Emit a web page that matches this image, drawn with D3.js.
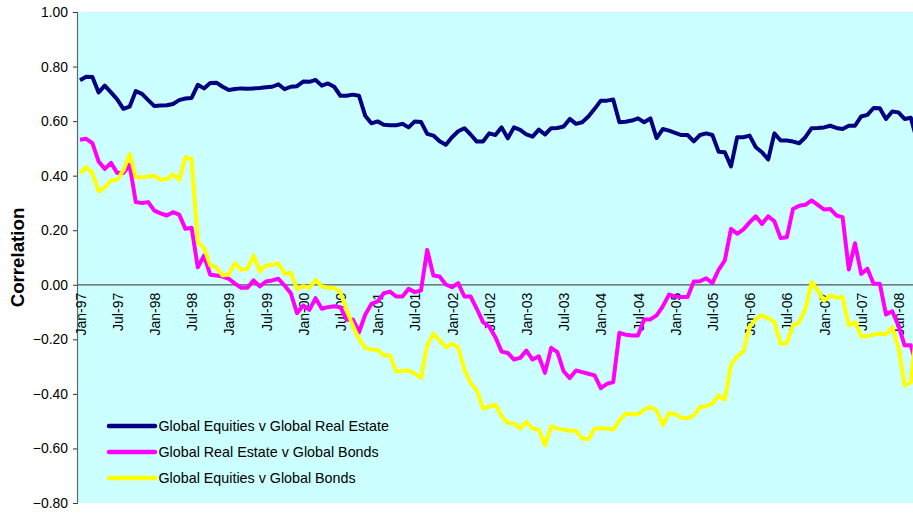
<!DOCTYPE html>
<html>
<head>
<meta charset="utf-8">
<script src="https://cdn.jsdelivr.net/npm/d3@7"></script>
<style>
  body { margin: 0; background: #fff; }
  text { font-family: Arial, "Liberation Sans", sans-serif; }
</style>
</head>
<body>
<div class="content"></div>
<script>
// monthly correlations, Jan-97 onwards (last point runs past the right edge)
const equitiesRealEstate = [
  0.75, 0.763, 0.762, 0.705, 0.73, 0.705, 0.68, 0.645, 0.653, 0.71,
  0.70, 0.677, 0.655, 0.657, 0.658, 0.663, 0.677, 0.683, 0.685, 0.733,
  0.72, 0.74, 0.741, 0.726, 0.714, 0.718, 0.72, 0.719, 0.72, 0.721,
  0.724, 0.726, 0.735, 0.717, 0.726, 0.728, 0.745, 0.744, 0.751, 0.73,
  0.738, 0.726, 0.693, 0.693, 0.697, 0.693, 0.62, 0.592, 0.599, 0.587,
  0.585, 0.585, 0.59, 0.577, 0.599, 0.597, 0.553, 0.547, 0.526, 0.513,
  0.541, 0.563, 0.574, 0.551, 0.525, 0.525, 0.555, 0.549, 0.577, 0.537,
  0.577, 0.568, 0.551, 0.543, 0.569, 0.551, 0.574, 0.575, 0.58, 0.608,
  0.59, 0.596, 0.617, 0.645, 0.675, 0.675, 0.679, 0.596, 0.598, 0.602,
  0.61, 0.596, 0.61, 0.538, 0.571, 0.565, 0.557, 0.549, 0.549, 0.526,
  0.549, 0.555, 0.549, 0.488, 0.486, 0.434, 0.541, 0.541, 0.547, 0.504,
  0.486, 0.459, 0.555, 0.529, 0.529, 0.525, 0.519, 0.541, 0.574, 0.575,
  0.577, 0.583, 0.575, 0.571, 0.583, 0.583, 0.617, 0.623, 0.648, 0.647,
  0.608, 0.635, 0.632, 0.608, 0.612, 0.53
];
const realEstateBonds = [
  0.532, 0.535, 0.519, 0.452, 0.425, 0.447, 0.41, 0.41, 0.44, 0.303,
  0.30, 0.303, 0.272, 0.262, 0.254, 0.266, 0.257, 0.205, 0.209, 0.064,
  0.107, 0.037, 0.034, 0.030, 0.022, 0.004, -0.011, -0.011, 0.016, -0.006,
  0.012, 0.016, 0.022, -0.003, -0.031, -0.104, -0.076, -0.092, -0.049, -0.088,
  -0.082, -0.079, -0.082, -0.128, -0.127, -0.174, -0.11, -0.07, -0.061, -0.031,
  -0.025, -0.043, -0.043, -0.015, -0.027, -0.021, 0.128, 0.034, 0.03, 0.001,
  -0.009, 0.006, -0.043, -0.043, -0.088, -0.137, -0.153, -0.192, -0.245, -0.25,
  -0.274, -0.268, -0.241, -0.274, -0.262, -0.323, -0.231, -0.247, -0.317, -0.342,
  -0.314, -0.32, -0.326, -0.332, -0.379, -0.363, -0.357, -0.176, -0.183, -0.186,
  -0.186, -0.127, -0.127, -0.112, -0.079, -0.036, -0.043, -0.045, -0.045, 0.012,
  0.013, 0.024, 0.006, 0.055, 0.089, 0.205, 0.187, 0.203, 0.229, 0.251,
  0.223, 0.251, 0.233, 0.171, 0.174, 0.278, 0.29, 0.293, 0.309, 0.293,
  0.276, 0.278, 0.254, 0.248, 0.056, 0.152, 0.04, 0.059, 0.004, 0.004,
  -0.109, -0.097, -0.149, -0.222, -0.222, -0.30
];
const equitiesBonds = [
  0.409, 0.431, 0.409, 0.343, 0.357, 0.382, 0.385, 0.419, 0.48, 0.394,
  0.394, 0.397, 0.40, 0.385, 0.388, 0.404, 0.385, 0.467, 0.462, 0.156,
  0.136, 0.071, 0.064, 0.034, 0.038, 0.079, 0.055, 0.059, 0.107, 0.049,
  0.071, 0.073, 0.079, 0.04, 0.044, -0.015, -0.005, -0.011, 0.018, -0.006,
  -0.011, -0.011, -0.027, -0.092, -0.149, -0.198, -0.231, -0.238, -0.238, -0.259,
  -0.259, -0.318, -0.316, -0.314, -0.326, -0.341, -0.222, -0.18, -0.204, -0.229,
  -0.216, -0.229, -0.311, -0.36, -0.387, -0.454, -0.446, -0.44, -0.482, -0.507,
  -0.509, -0.527, -0.503, -0.527, -0.531, -0.589, -0.519, -0.527, -0.531, -0.536,
  -0.534, -0.564, -0.567, -0.527, -0.527, -0.527, -0.531, -0.497, -0.473, -0.475,
  -0.475, -0.458, -0.448, -0.46, -0.515, -0.47, -0.475, -0.487, -0.489, -0.479,
  -0.448, -0.445, -0.436, -0.405, -0.421, -0.293, -0.262, -0.244, -0.155, -0.125,
  -0.112, -0.122, -0.137, -0.216, -0.214, -0.149, -0.137, -0.088, 0.01, -0.021,
  -0.058, -0.039, -0.048, -0.045, -0.149, -0.137, -0.189, -0.189, -0.182, -0.179,
  -0.182, -0.155, -0.229, -0.369, -0.357, -0.15
];
const seriesNames = [
  "Global Equities v Global Real Estate",
  "Global Real Estate v Global Bonds",
  "Global Equities v Global Bonds"
];
const seriesColors = ["#000080", "#FF00FF", "#FFFF00"];
const yTicks = [1.0, 0.8, 0.6, 0.4, 0.2, 0.0, -0.2, -0.4, -0.6, -0.8];
const xTickLabels = [
  "Jan-97", "Jul-97", "Jan-98", "Jul-98", "Jan-99", "Jul-99", "Jan-00", "Jul-00",
  "Jan-01", "Jul-01", "Jan-02", "Jul-02", "Jan-03", "Jul-03", "Jan-04", "Jul-04",
  "Jan-05", "Jul-05", "Jan-06", "Jul-06", "Jan-07", "Jul-07", "Jan-08"
];

function main() {
  const svgW = 913, svgH = 514;
  const plot = { left: 77, top: 12, right: 913, bottom: 503 };
  const svg = d3.select('.content').append('svg')
    .attr('width', svgW)
    .attr('height', svgH);

  // category labels, one per month
  const fmt = d3.timeFormat('%b-%y');
  const months = equitiesRealEstate.map((d, i) => fmt(new Date(1997, i, 1)));

  const x = d3.scalePoint()
    .domain(months)
    .range([80, 80 + 6.2 * (months.length - 1)]);
  const y = d3.scaleLinear()
    .domain([-0.8, 1.0])
    .range([plot.bottom, plot.top]);

  // plot background
  svg.append('rect')
    .attr('x', plot.left).attr('y', plot.top)
    .attr('width', plot.right - plot.left)
    .attr('height', plot.bottom - plot.top)
    .attr('fill', '#CCFFFF');

  // y axis
  const yAxis = svg.append('g')
    .attr('transform', 'translate(' + plot.left + ',0)')
    .call(d3.axisLeft(y).tickValues(yTicks).tickFormat(d3.format('.2f')).tickSize(4).tickPadding(5));
  yAxis.select('.domain').attr('stroke', '#5a6a6a').attr('stroke-width', 1.2);
  yAxis.selectAll('.tick line').attr('stroke', '#333');
  yAxis.selectAll('text').attr('font-size', 13.9).attr('fill', '#000')
    .attr('font-family', 'Arial, "Liberation Sans", sans-serif');

  // zero line with month labels hanging below it
  svg.append('line')
    .attr('x1', plot.left).attr('x2', plot.right)
    .attr('y1', y(0)).attr('y2', y(0))
    .attr('stroke', '#555').attr('stroke-width', 1.2);

  svg.append('g').selectAll('text')
    .data(xTickLabels)
    .join('text')
    .attr('transform', d => 'translate(' + (x(d) + 5.5) + ',' + (y(0) + 8) + ') rotate(-90)')
    .attr('text-anchor', 'end')
    .attr('font-size', 14)
    .text(d => d);

  // y title
  svg.append('text')
    .attr('transform', 'translate(24,' + ((plot.top + plot.bottom) / 2) + ') rotate(-90)')
    .attr('text-anchor', 'middle')
    .attr('font-size', 18.7)
    .attr('font-weight', 'bold')
    .text('Correlation');

  // the three lines, later series drawn on top
  const allSeries = [equitiesRealEstate, realEstateBonds, equitiesBonds];
  const line = d3.line()
    .x((d, i) => x(months[i]))
    .y(d => y(d));
  svg.append('clipPath').attr('id', 'plotclip')
    .append('rect')
    .attr('x', plot.left).attr('y', 0)
    .attr('width', plot.right - plot.left).attr('height', svgH);
  allSeries.forEach((s, k) => {
    svg.append('path')
      .datum(s)
      .attr('d', line)
      .attr('fill', 'none')
      .attr('stroke', seriesColors[k])
      .attr('stroke-width', 4)
      .attr('stroke-linejoin', 'round')
      .attr('clip-path', 'url(#plotclip)');
  });

  // legend
  const legend = svg.append('g').attr('transform', 'translate(109,426)');
  seriesNames.forEach((name, k) => {
    const row = legend.append('g').attr('transform', 'translate(0,' + (k * 26) + ')');
    row.append('line')
      .attr('x1', 0).attr('x2', 46)
      .attr('stroke', seriesColors[k])
      .attr('stroke-width', 4.5)
      .attr('stroke-linecap', 'round');
    row.append('text')
      .attr('x', 49.5).attr('y', 5.2)
      .attr('font-size', 14.3)
      .text(name);
  });
}
main();
</script>
</body>
</html>
